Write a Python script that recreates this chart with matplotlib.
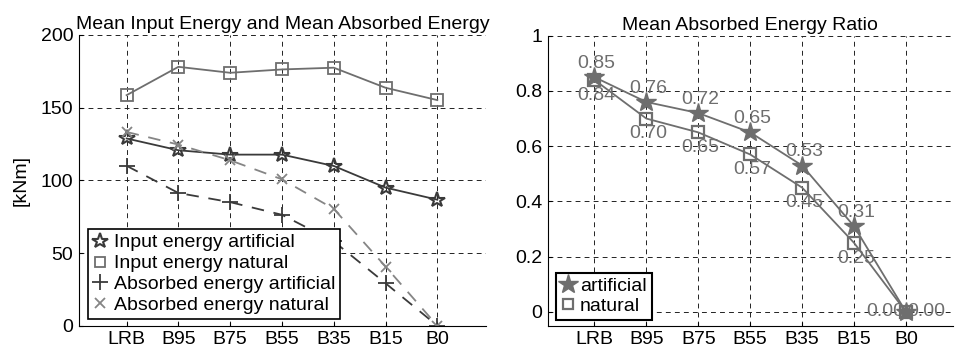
import matplotlib
matplotlib.use("Agg")
import matplotlib.pyplot as plt
from matplotlib.lines import Line2D

plt.rcParams["font.family"] = ["Liberation Sans", "DejaVu Sans"]
plt.rcParams["lines.scale_dashes"] = False

cases = ["LRB", "B95", "B75", "B55", "B35", "B15", "B0"]
input_art = [128.8, 120.7, 117.7, 117.7, 109.9, 95.0, 86.7]
input_nat = [158.6, 178.1, 174.0, 176.3, 177.5, 163.7, 155.2]
absorbed_art = [110.0, 91.3, 85.0, 76.3, 58.0, 29.2, 0.0]
absorbed_nat = [133.3, 124.6, 113.8, 100.7, 80.4, 40.7, 0.0]
ratio_art = [0.85, 0.76, 0.72, 0.65, 0.53, 0.31, 0.00]
ratio_nat = [0.84, 0.70, 0.65, 0.57, 0.45, 0.25, 0.00]

x = list(range(1, len(cases) + 1))
dark = "#3a3a3a"
mid = "#6e6e6e"
light = "#858585"

fig = plt.figure(figsize=(9.55, 3.56), dpi=100)
ax1 = fig.add_axes([0.0827, 0.0851, 0.4262, 0.8166])
ax2 = fig.add_axes([0.5735, 0.0851, 0.4241, 0.8146])

for ax in (ax1, ax2):
    ax.spines["top"].set_visible(False)
    ax.spines["right"].set_visible(False)
    ax.set_axisbelow(True)
    ax.grid(True, color="#222222", linestyle=(0, (3.5, 3)), linewidth=0.7)
    ax.tick_params(direction="in", length=3, labelsize=14, colors="black", pad=4)
    ax.set_xticks(x)
    ax.set_xticklabels(cases)

# left chart
ax1.plot(x, input_art, color=dark, lw=1.3, marker="*", ms=11.5, mfc="none", mew=1.5)
ax1.plot(x, input_nat, color=mid, lw=1.3, marker="s", ms=8, mfc="none", mew=1.3)
ax1.plot(x, absorbed_art, color=dark, lw=1.3, linestyle=(0, (9, 7)), marker="+", ms=11, mew=1.3)
ax1.plot(x, absorbed_nat, color=light, lw=1.3, linestyle=(0, (9, 7)), marker="x", ms=7, mew=1.3)
ax1.set_xlim(0.08, 7.94)
ax1.set_ylim(0, 200)
ax1.set_yticks([0, 50, 100, 150, 200])
ax1.set_ylabel("[kNm]", fontsize=14, labelpad=8)
ax1.set_title("Mean Input Energy and Mean Absorbed Energy", fontsize=14, pad=4)

h1 = [Line2D([], [], ls="none", color=dark, marker="*", ms=11.5, mfc="none", mew=1.5),
      Line2D([], [], ls="none", color=mid, marker="s", ms=7, mfc="none", mew=1.3),
      Line2D([], [], ls="none", color=dark, marker="+", ms=11, mew=1.3),
      Line2D([], [], ls="none", color=light, marker="x", ms=7, mew=1.3)]
leg1 = ax1.legend(h1, ["Input energy artificial", "Input energy natural",
                       "Absorbed energy artificial", "Absorbed energy natural"],
                  loc="lower left", bbox_to_anchor=(0.021, 0.023), fontsize=14,
                  frameon=True, fancybox=False, framealpha=1, edgecolor="black",
                  handlelength=0.8, handletextpad=0.3, borderpad=0.25,
                  labelspacing=0.17, borderaxespad=0)
leg1.get_frame().set_linewidth(1.2)

# right chart
ax2.plot(x, ratio_art, color=mid, lw=1.3, marker="*", ms=15, mfc=mid, mew=1)
ax2.plot(x, ratio_nat, color=mid, lw=1.3, marker="s", ms=8, mfc="none", mew=1.6)
for i, (xa, va, vn) in enumerate(zip(x, ratio_art, ratio_nat)):
    if i == len(x) - 1:
        ax2.annotate(f"{va:.2f}", (xa, va), xytext=(1, 0), textcoords="offset points",
                     ha="left", va="center", fontsize=14, color=mid)
        ax2.annotate(f"{vn:.2f}", (xa, vn), xytext=(-1, 0), textcoords="offset points",
                     ha="right", va="center", fontsize=14, color=mid)
    else:
        ax2.annotate(f"{va:.2f}", (xa, va), xytext=(1.5, 10), textcoords="offset points",
                     ha="center", va="center", fontsize=14, color=mid)
        ax2.annotate(f"{vn:.2f}", (xa, vn), xytext=(1.5, -11), textcoords="offset points",
                     ha="center", va="center", fontsize=14, color=mid)
ax2.set_xlim(0.1, 7.9)
ax2.set_ylim(-0.05, 1)
ax2.set_yticks([0, 0.2, 0.4, 0.6, 0.8, 1])
ax2.set_yticklabels(["0", "0.2", "0.4", "0.6", "0.8", "1"])
ax2.set_title("Mean Absorbed Energy Ratio", fontsize=14, pad=4)

h2 = [Line2D([], [], ls="none", color=mid, marker="*", ms=15, mfc=mid),
      Line2D([], [], ls="none", color=mid, marker="s", ms=7, mfc="none", mew=1.6)]
leg2 = ax2.legend(h2, ["artificial", "natural"], loc="lower left",
                  bbox_to_anchor=(0.02, 0.02), fontsize=14, frameon=True,
                  fancybox=False, framealpha=1, edgecolor="black",
                  handlelength=0.8, handletextpad=0.2, borderpad=0.25,
                  labelspacing=0.12, borderaxespad=0)
leg2.get_frame().set_linewidth(1.5)

fig.savefig("out.png", dpi=100)
